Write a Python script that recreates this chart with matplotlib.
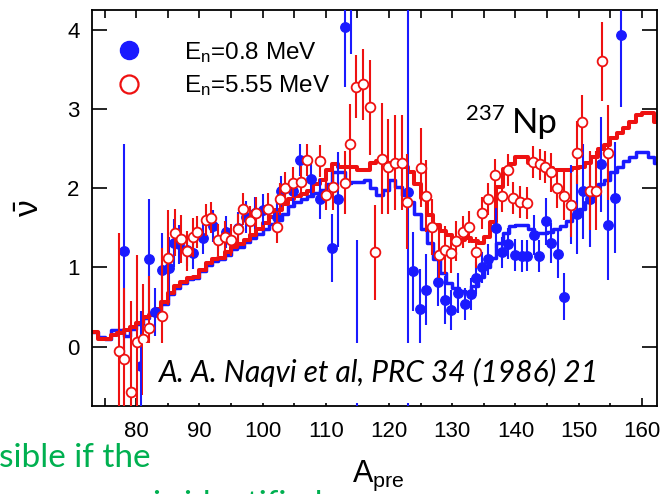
import numpy as np
import matplotlib
matplotlib.use("Agg")
import matplotlib.pyplot as plt
from matplotlib.lines import Line2D
from matplotlib.patches import Rectangle

plt.rcParams['font.family'] = ['Liberation Sans Narrow', 'Liberation Sans', 'DejaVu Sans']
plt.rcParams['mathtext.default'] = 'regular'

# fragment mass bins (bin start) for the calculated step curves
step_A = np.arange(73, 163)
red_step = [0.19, 0.10, 0.10, 0.15, 0.17, 0.21, 0.25, 0.30, 0.37, 0.40,
            0.47, 0.56, 0.68, 0.76, 0.82, 0.87, 0.88, 0.97, 1.06, 1.10,
            1.12, 1.19, 1.26, 1.29, 1.35, 1.41, 1.48, 1.56, 1.64, 1.73,
            1.80, 1.86, 1.90, 1.93, 1.96, 2.05, 2.10, 2.23, 2.30, 2.27,
            2.27, 2.27, 2.23, 2.23, 2.32, 2.34, 2.32, 2.32, 2.32, 2.27,
            2.20, 2.05, 1.88, 1.66, 1.54, 1.46, 1.41, 1.36, 1.35, 1.37,
            1.33, 1.31, 1.38, 1.57, 2.02, 2.24, 2.30, 2.39, 2.39, 2.32,
            2.30, 2.27, 2.26, 2.23, 2.23, 2.23, 2.25, 2.27, 2.32, 2.40,
            2.49, 2.55, 2.64, 2.70, 2.76, 2.83, 2.93, 2.95, 2.95, 2.83]
blue_step = [0.18, 0.12, 0.10, 0.21, 0.21, 0.13, 0.22, 0.28, 0.36, 0.42,
             0.46, 0.54, 0.66, 0.74, 0.80, 0.85, 0.86, 0.95, 1.03, 1.08,
             1.10, 1.16, 1.23, 1.26, 1.32, 1.37, 1.42, 1.48, 1.55, 1.60,
             1.68, 1.77, 1.82, 1.86, 1.90, 1.94, 1.98, 2.05, 2.20, 2.20,
             2.07, 2.08, 2.08, 2.10, 2.00, 1.92, 1.98, 2.10, 2.02, 1.92,
             1.82, 1.67, 1.48, 1.31, 1.10, 0.93, 0.80, 0.74, 0.70, 0.69,
             0.76, 0.88, 1.00, 1.12, 1.31, 1.44, 1.52, 1.54, 1.53, 1.48,
             1.44, 1.44, 1.45, 1.48, 1.52, 1.58, 1.66, 1.74, 1.82, 1.94,
             2.05, 2.10, 2.20, 2.27, 2.34, 2.40, 2.46, 2.46, 2.40, 2.32]

# measured points, En = 0.8 MeV
blue_A = [78.0, 80.8, 82.0, 83.0, 84.1, 85.2, 86.0, 86.7, 88.0, 89.0,
          90.6, 92.2, 94.2, 96.1, 97.4, 98.8, 100.1, 102.2, 102.9, 104.8,
          105.9, 107.7, 109.0, 110.9, 112.0, 113.1, 114.0, 115.0, 123.0, 123.8,
          124.9, 125.9, 127.8, 128.9, 129.8, 130.9, 132.0, 133.0, 133.8, 134.7,
          135.7, 137.0, 137.8, 138.9, 140.0, 141.0, 141.9, 143.0, 143.8, 144.9,
          145.7, 146.8, 147.7, 148.8, 149.8, 150.7, 151.8, 153.6, 154.7, 155.8,
          156.7]
blue_nu = [1.21, -0.25, 1.11, 0.44, 0.97, 0.99, 1.31, 1.29, 1.22, 1.18,
           1.37, 1.52, 1.45, 1.50, 1.64, 1.69, 1.73, 1.64, 1.96, 1.96,
           2.36, 2.11, 1.86, 1.25, 1.86, 4.03, 4.60, -0.30, 1.95, 0.95,
           0.48, 0.72, 0.81, 0.59, 0.46, 0.68, 0.54, 0.66, 0.87, 1.00,
           1.10, 1.50, 1.19, 1.30, 1.16, 1.14, 1.15, 1.41, 1.14, 1.58,
           1.31, 1.17, 0.63, 1.79, 1.67, 1.96, 1.86, 2.30, 1.54, 1.88,
           3.93]
blue_err = [1.35, 0.70, 0.75, 0.30, 0.47, 0.40, 0.30, 0.25, 0.20, 0.20,
            0.20, 0.20, 0.20, 0.20, 0.20, 0.20, 0.20, 0.20, 0.20, 0.20,
            0.20, 0.20, 0.25, 0.43, 0.60, 0.75, 0.90, 1.65, 2.80, 0.50,
            0.50, 0.45, 0.30, 0.30, 0.25, 0.25, 0.20, 0.20, 0.20, 0.20,
            0.20, 0.25, 0.20, 0.20, 0.20, 0.20, 0.20, 0.25, 0.20, 0.30,
            0.25, 0.30, 0.30, 0.50, 0.50, 0.60, 0.60, 0.60, 0.70, 0.70,
            0.90]

# measured points, En = 5.55 MeV
red_A = [77.2, 78.1, 79.2, 80.2, 81.0, 82.1, 84.1, 85.1, 86.2, 87.1,
         88.1, 89.0, 89.6, 91.1, 91.9, 93.0, 94.1, 95.0, 96.1, 96.9,
         98.0, 99.0, 100.9, 102.2, 102.8, 103.6, 104.8, 106.1, 107.0, 109.1,
         110.0, 111.2, 113.1, 113.9, 114.8, 115.9, 117.0, 117.8, 118.9, 119.9,
         121.0, 122.0, 122.9, 125.0, 125.9, 126.8, 127.9, 128.9, 129.8, 130.6,
         131.7, 132.7, 133.8, 134.7, 135.7, 136.8, 137.8, 138.9, 139.6, 140.8,
         141.9, 142.8, 143.9, 144.7, 145.7, 146.6, 147.7, 148.8, 149.8, 150.6,
         151.8, 152.8, 153.7, 154.7]
red_nu = [-0.06, -0.16, -0.57, 0.06, 0.09, 0.24, 0.39, 1.12, 1.44, 1.36,
          1.21, 1.38, 1.45, 1.60, 1.63, 1.35, 1.38, 1.35, 1.48, 1.74,
          1.58, 1.69, 1.74, 1.51, 1.86, 2.00, 2.07, 2.08, 2.36, 2.34,
          1.92, 2.02, 2.07, 2.56, 3.28, 3.31, 3.02, 1.19, 2.37, 2.27,
          2.32, 2.32, 1.83, 2.26, 1.90, 1.51, 1.16, 1.22, 1.18, 1.33,
          1.45, 1.51, 1.19, 1.69, 1.86, 2.17, 1.90, 2.23, 1.88, 1.83,
          1.81, 2.33, 2.30, 2.27, 2.20, 2.00, 1.90, 1.79, 2.45, 2.83,
          1.97, 1.97, 3.60, 2.45]
red_err = [1.50, 0.90, 1.15, 1.10, 0.70, 0.65, 0.85, 0.60, 0.30, 0.30,
           0.25, 0.25, 0.20, 0.20, 0.20, 0.20, 0.20, 0.20, 0.20, 0.20,
           0.20, 0.20, 0.20, 0.20, 0.20, 0.20, 0.20, 0.20, 0.20, 0.20,
           0.20, 0.30, 0.40, 0.50, 0.40, 0.45, 0.60, 0.60, 0.70, 0.60,
           0.60, 0.60, 0.60, 0.50, 0.45, 0.35, 0.30, 0.30, 0.25, 0.25,
           0.20, 0.20, 0.20, 0.20, 0.20, 0.20, 0.20, 0.20, 0.20, 0.20,
           0.20, 0.20, 0.20, 0.20, 0.25, 0.25, 0.30, 0.40, 0.40, 0.35,
           0.50, 0.50, 0.50, 0.60]

blue = '#1a1aff'
red = '#ee1111'

fig = plt.figure(figsize=(6.65, 4.94), dpi=100)
ax = fig.add_axes([0.1383, 0.1781, 0.8497, 0.8017])

edges = np.append(step_A, step_A[-1] + 1)
ax.step(edges, np.append(blue_step, blue_step[-1]), where='post', color=blue, lw=2.5, zorder=2)
ax.step(edges, np.append(red_step, red_step[-1]), where='post', color=red, lw=2.9, zorder=2.5)

ax.errorbar(blue_A, blue_nu, yerr=blue_err, fmt='o', color=blue, ms=6.8,
            elinewidth=1.5, capsize=0, zorder=3)
ax.errorbar(red_A, red_nu, yerr=red_err, fmt='o', color=red, mfc='white', mec=red,
            mew=1.3, ms=7.0, elinewidth=1.5, capsize=0, zorder=4)

ax.set_xlim(73, 162.4)
ax.set_ylim(-0.75, 4.25)
xt = np.arange(75, 165, 5)
ax.set_xticks(xt)
ax.set_xticklabels([str(t) if t % 10 == 0 else '' for t in xt])
ax.set_yticks([0, 1, 2, 3, 4])
ax.tick_params(axis='x', direction='in', top=True, length=6, width=1.2, labelsize=16, pad=11)
ax.tick_params(axis='y', direction='in', right=True, length=11, width=1.2, labelsize=16, pad=9)
for s in ax.spines.values():
    s.set_linewidth(1.3)

ax.set_xlabel(r'A$_{pre}$', fontsize=22)
ax.xaxis.set_label_coords(0.506, -0.192)
ax.xaxis.label.set_va('baseline')
ax.set_ylabel(r'$\bar{\nu}$', fontsize=24, rotation=90)
ax.yaxis.set_label_coords(-0.108, 0.5)
ax.yaxis.label.set_va('center')

handles = [Line2D([], [], ls='none', marker='o', color=blue, ms=13),
           Line2D([], [], ls='none', marker='o', color=red, mfc='white', mew=1.6, ms=13)]
ax.legend(handles, [r'E$_{n}$=0.8 MeV', r'E$_{n}$=5.55 MeV'], loc='upper left',
          bbox_to_anchor=(0.044, 0.925), frameon=False, fontsize=17.5, handlelength=1.0,
          handletextpad=1.75, labelspacing=0.35, borderpad=0, borderaxespad=0)

ax.text(0.731, 0.722, '237', transform=ax.transAxes, fontsize=16, family='Lato',
        ha='right', va='baseline')
ax.text(0.743, 0.689, 'Np', transform=ax.transAxes, fontsize=25, family='Lato',
        ha='left', va='baseline')

ax.add_patch(Rectangle((0.090, 0.008), 0.845, 0.151, transform=ax.transAxes,
                       facecolor='white', edgecolor='none', zorder=10))
ax.text(0.508, 0.086, 'A. A. Naqvi et al, PRC 34 (1986) 21', transform=ax.transAxes,
        fontsize=21.5, family='Lato', style='italic', ha='center', va='center', zorder=11)

fig.text(-0.002, 0.0547, 'sible if the', fontsize=24, family='Lato', color='#00b050',
         ha='left', va='baseline')
fig.text(0.23, -0.04, 'is identified', fontsize=24, family='Lato', color='#00b050',
         ha='left', va='baseline')

fig.savefig('out.png', dpi=100)
